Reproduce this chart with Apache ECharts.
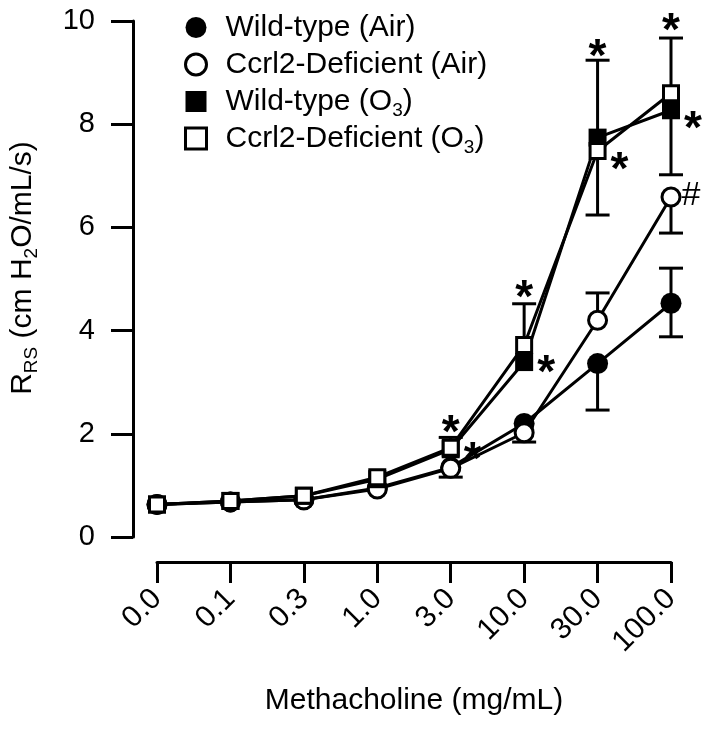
<!DOCTYPE html>
<html>
<head>
<meta charset="utf-8">
<script src="https://cdn.jsdelivr.net/npm/echarts@6/dist/echarts.min.js"></script>
<style>
  html, body { margin: 0; padding: 0; background: #fff; }
  #chart { width: 709px; height: 731px; }
</style>
</head>
<body>
<div id="chart"></div>
<script>
// methacholine doses (category axis)
var doses = ['0.0', '0.1', '0.3', '1.0', '3.0', '10.0', '30.0', '100.0'];

// mean R_RS per group
var wtAir = [0.63, 0.68, 0.72, 0.95, 1.35, 2.20, 3.36, 4.53];
var koAir = [0.63, 0.68, 0.72, 0.93, 1.33, 2.02, 4.20, 6.59];
var wtO3  = [0.63, 0.70, 0.80, 1.12, 1.70, 3.39, 7.74, 8.27];
var koO3  = [0.63, 0.70, 0.80, 1.16, 1.73, 3.72, 7.48, 8.60];

// error bar ends (null = not drawn on that side)
var wtAirHigh = [null, null, null, null, null, null, null, 5.21];
var wtAirLow  = [null, null, null, null, null, null, 2.46, 3.88];
var koAirHigh = [null, null, null, null, null, null, 4.73, null];
var koAirLow  = [null, null, null, null, 1.16, 1.84, null, 5.89];
var wtO3High  = [null, null, null, null, null, null, 9.24, null];
var wtO3Low   = [null, null, null, null, null, null, null, 7.02];
var koO3High  = [null, null, null, null, 1.93, 4.52, null, 9.67];
var koO3Low   = [null, null, null, null, null, null, 6.24, null];

// significance marks: [dose, y]
var starsOver   = [['3.0', 2.23], ['10.0', 4.84], ['30.0', 9.50], ['100.0', 10.02]];
var starsBeside = [['3.0', 1.69], ['10.0', 3.39], ['30.0', 7.31], ['100.0', 8.12]];
var hashBeside  = [['100.0', 6.61]];

var yTicks = [0, 2, 4, 6, 8, 10];

var FONT = 'Liberation Sans, Arial, sans-serif';

function errData(mean, low, high) {
  var out = [];
  for (var i = 0; i < mean.length; i++) {
    if (low[i] == null && high[i] == null) continue;
    out.push([i, mean[i],
      low[i] == null ? mean[i] : low[i],
      high[i] == null ? mean[i] : high[i]]);
  }
  return out;
}

function renderErr(params, api) {
  var x = api.value(0);
  var m = api.value(1), lo = api.value(2), hi = api.value(3);
  var pl = api.coord([x, lo]);
  var ph = api.coord([x, hi]);
  var cap = 12;
  var st = { stroke: '#000', lineWidth: 3 };
  var kids = [{
    type: 'line', shape: { x1: pl[0], y1: pl[1], x2: ph[0], y2: ph[1] }, style: st
  }];
  if (lo !== m) kids.push({ type: 'line', shape: { x1: pl[0] - cap, y1: pl[1], x2: pl[0] + cap, y2: pl[1] }, style: st });
  if (hi !== m) kids.push({ type: 'line', shape: { x1: ph[0] - cap, y1: ph[1], x2: ph[0] + cap, y2: ph[1] }, style: st });
  return { type: 'group', children: kids };
}

function errSeries(mean, low, high) {
  return {
    type: 'custom',
    renderItem: renderErr,
    data: errData(mean, low, high),
    z: 1,
    silent: true,
    tooltip: { show: false }
  };
}

function lineSeries(name, data, symbol, size, open) {
  return {
    name: name,
    type: 'line',
    data: data,
    symbol: symbol,
    symbolSize: size,
    showAllSymbol: true,
    lineStyle: { color: '#000', width: 3 },
    itemStyle: open
      ? { color: '#fff', borderColor: '#000', borderWidth: 3, opacity: 1 }
      : { color: '#000', borderColor: '#000', borderWidth: 0, opacity: 1 },
    z: 3,
    animation: false
  };
}

function markSeries(points, text, offset) {
  return {
    type: 'scatter',
    data: points,
    symbolSize: 1,
    itemStyle: { color: 'transparent', opacity: 1 },
    clip: false,
    z: 4,
    silent: true,
    label: {
      show: true,
      position: 'inside',
      formatter: text,
      offset: offset,
      color: '#000',
      opacity: 1,
      textBorderWidth: 0,
      fontFamily: FONT,
      fontWeight: text === '*' ? 'bold' : 'normal',
      fontSize: text === '*' ? 46 : 34
    }
  };
}

var chart = echarts.init(document.getElementById('chart'));

var sub = { fontSize: 19, fontFamily: FONT, color: '#000', verticalAlign: 'bottom', lineHeight: 26 };

var option = {
  animation: false,
  backgroundColor: '#fff',
  textStyle: { fontFamily: FONT, color: '#000' },
  grid: { left: 152, right: 38, top: 21, bottom: 194, containLabel: false },
  legend: {
    orient: 'vertical',
    left: 179,
    top: 4,
    itemWidth: 21,
    itemHeight: 21,
    itemGap: 0,
    selectedMode: false,
    data: [
      { name: 'Wild-type (Air)', icon: 'circle', itemStyle: { color: '#000', borderWidth: 0 } },
      { name: 'Ccrl2-Deficient (Air)', icon: 'circle', itemStyle: { color: '#fff', borderColor: '#000', borderWidth: 3 } },
      { name: 'Wild-type (O3)', icon: 'rect', itemStyle: { color: '#000', borderWidth: 0 } },
      { name: 'Ccrl2-Deficient (O3)', icon: 'rect', itemStyle: { color: '#fff', borderColor: '#000', borderWidth: 3 } }
    ],
    formatter: function (n) { return n.replace('(O3)', '(O{sub|3})'); },
    textStyle: {
      fontFamily: FONT, fontSize: 30, color: '#000', lineHeight: 37,
      padding: [0, 0, 0, 14],
      rich: { sub: sub }
    }
  },
  xAxis: {
    type: 'category',
    data: doses,
    boundaryGap: false,
    offset: 25,
    axisLine: { onZero: false, lineStyle: { color: '#000', width: 3 } },
    axisTick: { length: 21, lineStyle: { color: '#000', width: 3 }, interval: 0 },
    axisLabel: { rotate: 45, interval: 0, fontSize: 30, color: '#000', fontFamily: FONT, margin: 32 },
    splitLine: { show: false },
    name: 'Methacholine (mg/mL)',
    nameLocation: 'middle',
    nameGap: 124,
    nameTextStyle: { fontSize: 30, color: '#000', fontFamily: FONT }
  },
  yAxis: {
    type: 'value',
    min: yTicks[0],
    max: yTicks[yTicks.length - 1],
    interval: 2,
    offset: 24,
    axisLine: { show: true, onZero: false, lineStyle: { color: '#000', width: 3 } },
    axisTick: { show: true, length: 22, lineStyle: { color: '#000', width: 3 } },
    axisLabel: { fontSize: 29, color: '#000', fontFamily: FONT, margin: 38 },
    splitLine: { show: false },
    name: '{m|R}{sub|RS}{m| (cm H}{sub|2}{m|O/mL/s)}',
    nameLocation: 'middle',
    nameGap: 92,
    nameTextStyle: {
      fontSize: 30, color: '#000', fontFamily: FONT,
      padding: [0, 0, 0, 22],
      rich: {
        m: { fontSize: 30, fontFamily: FONT, color: '#000', lineHeight: 36, verticalAlign: 'middle' },
        sub: { fontSize: 19, fontFamily: FONT, color: '#000', lineHeight: 26, verticalAlign: 'bottom' }
      }
    }
  },
  series: [
    errSeries(wtAir, wtAirLow, wtAirHigh),
    errSeries(koAir, koAirLow, koAirHigh),
    errSeries(wtO3, wtO3Low, wtO3High),
    errSeries(koO3, koO3Low, koO3High),
    lineSeries('Wild-type (Air)', wtAir, 'circle', 21, false),
    lineSeries('Ccrl2-Deficient (Air)', koAir, 'circle', 18, true),
    lineSeries('Wild-type (O3)', wtO3, 'rect', 18, false),
    lineSeries('Ccrl2-Deficient (O3)', koO3, 'rect', 15, true),
    markSeries(starsOver, '*', [0, 12]),
    markSeries(starsBeside, '*', [22, 12]),
    markSeries(hashBeside, '#', [20, 0])
  ]
};

chart.setOption(option);
</script>
</body>
</html>
